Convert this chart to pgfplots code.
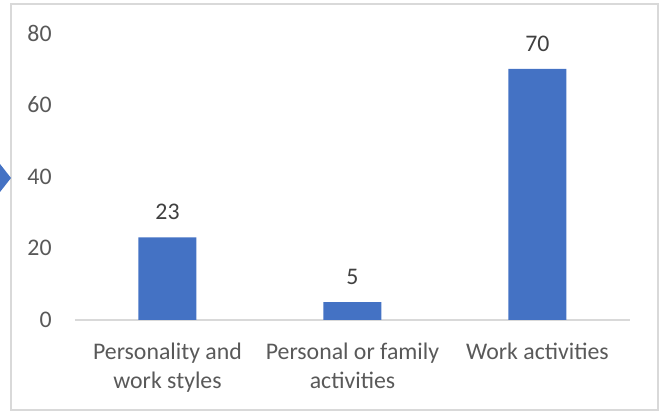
\documentclass[border=0pt]{standalone}
\usepackage{pgfplots}
\pgfplotsset{compat=1.18}
\usepackage{fontspec}
\setmainfont{Carlito}
\definecolor{barblue}{HTML}{4472C4}
\definecolor{axgray}{HTML}{D9D9D9}
\definecolor{labgray}{HTML}{595959}
\definecolor{datgray}{HTML}{404040}
\begin{document}
\begin{tikzpicture}
\useasboundingbox (0,0) rectangle (330pt,205.5pt);
\draw[axgray, line width=0.75pt] (5.5pt,0.5pt) rectangle (329pt,203.5pt);
\fill[barblue] (0pt,123.5pt) -- (5.5pt,116.5pt) -- (0pt,109.5pt) -- cycle;
\begin{axis}[
  at={(37.5pt,45.5pt)}, anchor=south west,
  scale only axis, width=277.5pt, height=143.5pt,
  ybar, bar width=29pt,
  xmin=-0.5, xmax=2.5, ymin=0, ymax=80,
  ytick={0,20,40,60,80},
  xtick=data,
  xticklabels={{Personality and\\work styles},{Personal or family\\activities},{Work activities}},
  axis lines*=left,
  y axis line style={draw=none},
  x axis line style={-, draw=axgray, line width=0.75pt},
  major tick length=0pt,
  /pgf/number format/assume math mode=true,
  tick label style={font=\fontsize{11.9}{14.2}\selectfont, text=labgray},
  yticklabel style={inner sep=0pt, xshift=-11.5pt},
  xticklabel style={inner sep=0pt, yshift=-11.5pt, align=center},
  nodes near coords,
  every node near coord/.append style={font=\fontsize{11.9}{14.2}\selectfont, text=datgray, inner sep=0pt, yshift=8.5pt},
  clip=false,
]
\addplot[fill=barblue, draw=none] coordinates {(0,23) (1,5) (2,70)};
\end{axis}
\end{tikzpicture}
\end{document}
